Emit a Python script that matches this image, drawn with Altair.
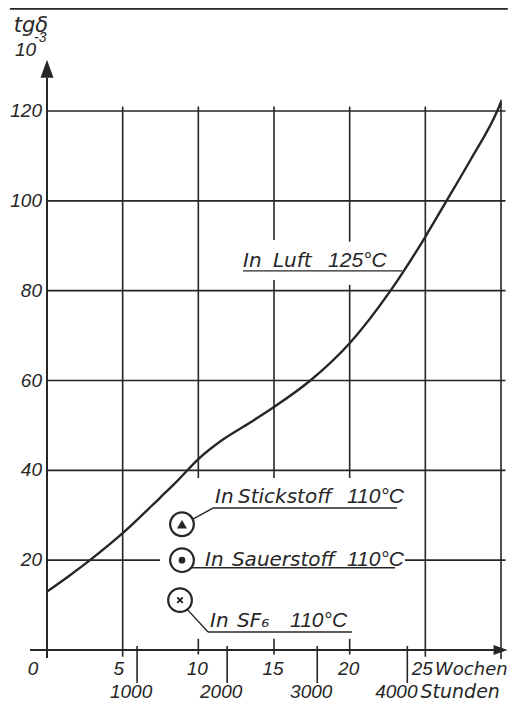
import altair as alt
import pandas as pd

# ---------------- data ----------------
curve_weeks = [0, 1.5, 2.84, 5, 7.5, 8.6, 10, 11.6, 13.4, 15, 17.4, 20, 22.7, 25, 26.4, 28, 29.75, 30]
curve_tgd = [13, 16.6, 20, 26, 34, 37.6, 42.5, 46.8, 50.6, 54.1, 60, 68.3, 80, 92, 100, 109.2, 120, 122]

marker_gas = ["Stickstoff", "Sauerstoff", "SF6"]
marker_weeks = [8.92, 8.92, 8.79]
marker_tgd = [28, 20, 11.1]

y_ticks = [20, 40, 60, 80, 100, 120]
week_ticks = [0, 5, 10, 15, 20, 25]
hour_ticks = [1000, 2000, 3000, 4000]
HOURS_PER_WEEK = 168

INK = "#262626"
NUM_FONT = "Liberation Sans"
TXT_FONT = "DejaVu Sans"

xs = alt.Scale(domain=[0, 30], nice=False, zero=False)
ys = alt.Scale(domain=[0, 120], nice=False, zero=False)


def X(f="x"):
    return alt.X(f"{f}:Q", scale=xs, axis=None)


def Y(f="y"):
    return alt.Y(f"{f}:Q", scale=ys, axis=None)


def seg_layer(df, width):
    return alt.Chart(df).mark_rule(color=INK, strokeWidth=width).encode(
        x=X("x"), x2="x2:Q", y=Y("y"), y2="y2:Q")


def text_layer(df, font, size, align="left", baseline="alphabetic", dx=0, flt=None):
    c = alt.Chart(df)
    if flt:
        c = c.transform_filter(flt)
    return c.mark_text(font=font, fontStyle="italic", fontSize=size, color=INK,
                       align=align, baseline=baseline, dx=dx).encode(
        x=X("w"), y=Y("v"), text="t:N")


# ---------------- tables ----------------
curve = pd.DataFrame({"w": curve_weeks, "v": curve_tgd})
markers = pd.DataFrame({"gas": marker_gas, "w": marker_weeks, "v": marker_tgd})

hgrid = pd.DataFrame({
    "x": [0, 0, 0, 0, 0, 0, 23.66],
    "x2": [30.3, 30.3, 30.3, 30.3, 30.3, 7.47, 30.3],
    "y": [40, 60, 80, 100, 120, 20, 20],
})
hgrid["y2"] = hgrid["y"]

vg = [(5, -1.5, 121), (10, 38.3, 121), (15, 38.3, 82.4), (15, 91.3, 121),
      (20, 38.3, 81.3), (20, 90.9, 121), (25, -1.5, 121), (30, -2, 122.5),
      (10, -1, 2.5), (15, -1, 2.5), (20, -1, 2.5)]
vgrid = pd.DataFrame({"x": [a for a, _, _ in vg], "y": [b for _, b, _ in vg],
                      "y2": [c for _, _, c in vg]})
vgrid["x2"] = vgrid["x"]

htick = pd.DataFrame({"x": [h / HOURS_PER_WEEK for h in hour_ticks]})
htick["x2"] = htick["x"]
htick["y"] = -7.35
htick["y2"] = 0.9

axes = pd.DataFrame({"x": [-1.12, 0], "x2": [29.6, 0], "y": [0, -1.8], "y2": [0, 127.4]})

leaders = pd.DataFrame([
    (12.95, 84.4, 23.46, 84.4),   # In Luft underline
    (9.61, 29.1, 10.97, 31.6),    # Stickstoff leader
    (10.97, 31.6, 23.13, 31.6),   # Stickstoff underline
    (9.45, 18.3, 23.0, 18.3),     # Sauerstoff underline
    (9.25, 9.1, 10.64, 4.0),      # SF6 leader
    (10.64, 4.0, 20.15, 4.0),     # SF6 underline
], columns=["x", "y", "x2", "y2"])

border = pd.DataFrame({"x": [-2.45], "x2": [30.45], "y": [142.8], "y2": [142.8]})

# ---------------- layers ----------------
grid_h = seg_layer(hgrid, 1.6)
grid_v = seg_layer(vgrid, 1.6)
hour_t = seg_layer(htick, 1.6)
axis_l = seg_layer(axes, 2)
lead_l = seg_layer(leaders, 1.4)
border_l = seg_layer(border, 2.5)

arrows = pd.DataFrame({"x": [0, 29.97], "y": [129.4, 0], "d": ["up", "right"]})
arrow_up = alt.Chart(arrows).transform_filter("datum.d == 'up'").mark_point(
    shape="M0,-1L0.72,1L-0.72,1Z", filled=True, color=INK, size=324, opacity=1
).encode(x=X(), y=Y())
arrow_right = alt.Chart(arrows).transform_filter("datum.d == 'right'").mark_point(
    shape="M1,0L-1,0.7L-1,-0.7Z", filled=True, color=INK, size=196, opacity=1
).encode(x=X(), y=Y())

line = alt.Chart(curve).mark_line(color=INK, strokeWidth=2.4, interpolate="monotone").encode(
    x=X("w"), y=Y("v"))

rings = alt.Chart(markers).mark_point(
    shape="circle", filled=False, color=INK, strokeWidth=2.2, size=560, opacity=1
).encode(x=X("w"), y=Y("v"))
tri = alt.Chart(markers).transform_filter("datum.gas == 'Stickstoff'").mark_point(
    shape="triangle-up", filled=True, color=INK, size=100, opacity=1
).encode(x=X("w"), y=Y("v"))
dot = alt.Chart(markers).transform_filter("datum.gas == 'Sauerstoff'").mark_point(
    shape="circle", filled=True, color=INK, size=45, opacity=1
).encode(x=X("w"), y=Y("v"))
cross = alt.Chart(markers).transform_filter("datum.gas == 'SF6'").mark_point(
    shape="M-1,-1L1,1M-1,1L1,-1", filled=False, color=INK, strokeWidth=2, size=30, opacity=1
).encode(x=X("w"), y=Y("v"))

# tick labels
yk = pd.DataFrame({"v": y_ticks})
yk["w"] = 0
yk["t"] = yk["v"].astype(str)
ylab = text_layer(yk, NUM_FONT, 19, align="right", baseline="middle", dx=-5)

wk = pd.DataFrame({"w": week_ticks})
wk["v"] = -5.57
wk["t"] = wk["w"].astype(str)
wlab0 = text_layer(wk, NUM_FONT, 19, align="center", dx=-14, flt="datum.w == 0")
wlab5 = text_layer(wk, NUM_FONT, 19, align="center", dx=-4, flt="datum.w == 5")
wlabm = text_layer(wk, NUM_FONT, 19, align="center", dx=-1, flt="datum.w > 5 && datum.w < 25")
wlab25 = text_layer(wk, NUM_FONT, 19, align="center", dx=-3, flt="datum.w == 25")

hk = pd.DataFrame({"h": hour_ticks})
hk["w"] = hk["h"] / HOURS_PER_WEEK
hk["v"] = -10.6
hk["t"] = hk["h"].astype(str)
hlab = text_layer(hk, NUM_FONT, 19, align="center", dx=-6, flt="datum.h < 4000")
hlab4 = text_layer(hk, NUM_FONT, 19, align="center", dx=-11, flt="datum.h == 4000")

# annotation words: (text, left position in weeks, baseline in tg-delta units, kind)
words = pd.DataFrame([
    ("Wochen", 25.64, -5.57, "unit18"),
    ("Stunden", 24.68, -10.6, "unit19"),
    ("In", 12.95, 85.3, "word"), ("Luft", 14.93, 85.3, "word"), ("125°C", 18.57, 85.3, "num"),
    ("In", 11.10, 32.7, "word"), ("Stickstoff", 12.62, 32.7, "word"), ("110°C", 19.82, 32.7, "num"),
    ("In", 10.44, 18.7, "word"), ("Sauerstoff", 12.22, 18.7, "word"), ("110°C", 19.82, 18.7, "num"),
    ("In", 10.77, 5.1, "word"), ("SF\u2086", 12.56, 5.1, "word"), ("110°C", 16.06, 5.1, "num"),
], columns=["t", "w", "v", "k"])
w_u18 = text_layer(words, TXT_FONT, 18, flt="datum.k == 'unit18'")
w_u19 = text_layer(words, TXT_FONT, 19, flt="datum.k == 'unit19'")
w_word = text_layer(words, TXT_FONT, 20, flt="datum.k == 'word'")
w_num = text_layer(words, NUM_FONT, 21, flt="datum.k == 'num'")

# y-axis title
ttl = pd.DataFrame([("tgδ", -2.2, 137.6, "a"),
                    ("10", -2.115, 132.2, "b"),
                    ("-3", -0.86, 135.3, "c")],
                   columns=["t", "w", "v", "k"])
ttl1 = text_layer(ttl, TXT_FONT, 21, flt="datum.k == 'a'")
ttl2 = text_layer(ttl, NUM_FONT, 19, flt="datum.k == 'b'")
ttl3 = text_layer(ttl, NUM_FONT, 14, flt="datum.k == 'c'")

chart = alt.layer(
    border_l, grid_h, grid_v, hour_t, axis_l, arrow_up, arrow_right, line, lead_l,
    rings, tri, dot, cross, ylab, wlab0, wlab5, wlabm, wlab25, hlab, hlab4,
    w_u18, w_u19, w_word, w_num, ttl1, ttl2, ttl3
).properties(
    width=454, height=539,
    padding={"left": 39, "top": 103, "right": 7, "bottom": 49},
    autosize=alt.AutoSizeParams(type="none"),
    background="white",
).configure_view(stroke=None)

chart.save("out.html", embed_options={"renderer": "svg", "actions": False})
